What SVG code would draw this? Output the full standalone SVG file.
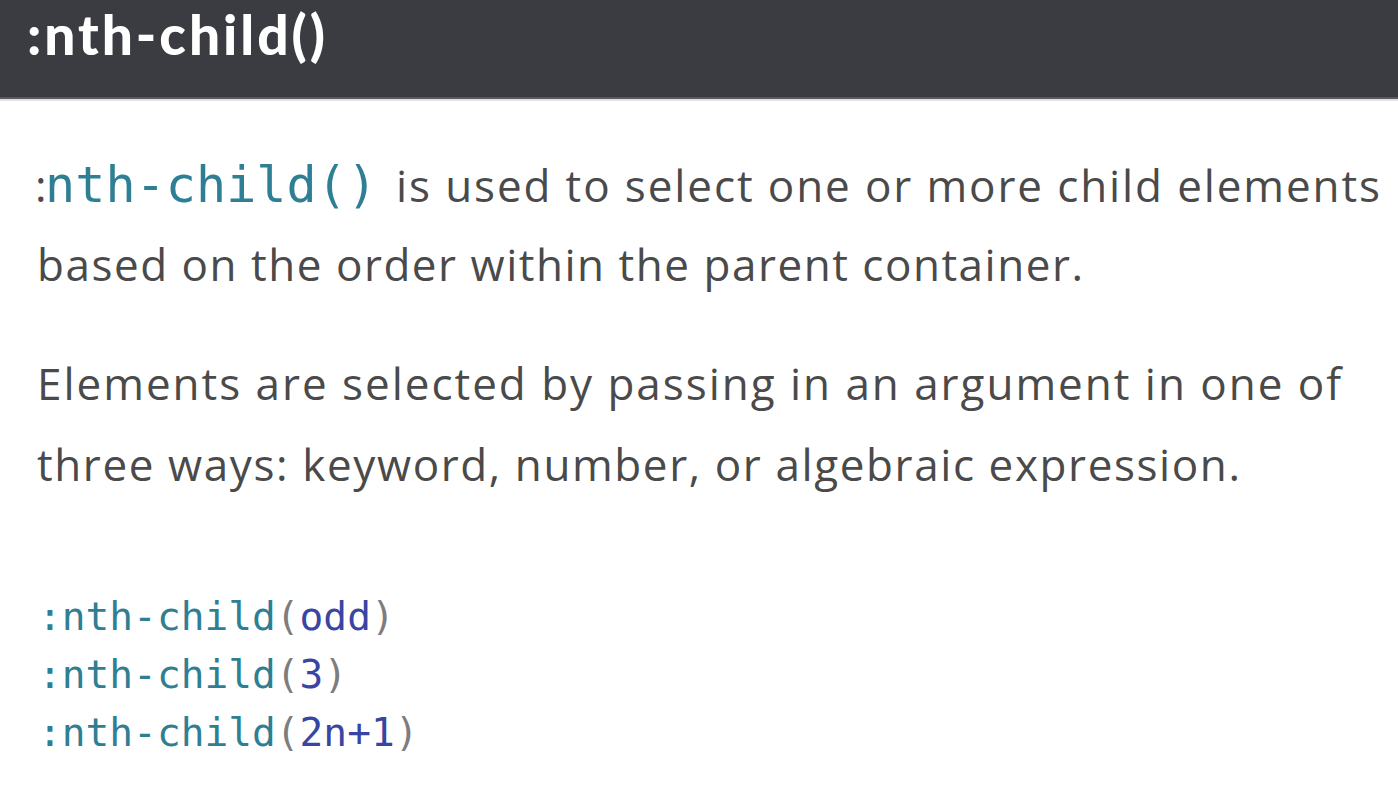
<svg xmlns="http://www.w3.org/2000/svg" width="1398" height="797" viewBox="0 0 1398 797">
  <style>
    .title { font-family: Lato, "Liberation Sans", sans-serif; font-weight: 900; font-size: 55px; fill: #ffffff; }
    .body { font-family: "Open Sans", Lato, "Liberation Sans", sans-serif; font-size: 44px; fill: #4a4a4a; }
    .mono { font-family: "DejaVu Sans Mono", "Liberation Mono", monospace; }
    .sel { fill: #2f7f94; }
    .par { fill: #7d7d7d; }
    .arg { fill: #3a44a2; }
  </style>
  <rect x="0" y="0" width="1398" height="97" fill="#3b3c41"/>
  <rect x="0" y="97" width="1398" height="2" fill="#5a5b60"/>
  <rect x="0" y="99" width="1398" height="2" fill="#e2e2e6"/>
  <text id="title" class="title" x="27" y="55" textLength="298">:nth-child()</text>

  <g id="paragraph1">
    <text class="body" x="35" y="202">:</text>
    <text class="mono sel" x="45" y="202" font-size="50" textLength="332">nth-child()</text>
    <text class="body" x="396" y="202" textLength="984">is used to select one or more child elements</text>
    <text class="body" x="37" y="281" textLength="1046">based on the order within the parent container.</text>
  </g>
  <g id="paragraph2">
    <text class="body" x="37" y="400" textLength="1304">Elements are selected by passing in an argument in one of</text>
    <text class="body" x="37" y="481" textLength="1203">three ways: keyword, number, or algebraic expression.</text>
  </g>
  <g id="code" class="mono" font-size="39.5">
    <text x="38" y="630"><tspan class="sel">:nth-child</tspan><tspan class="par">(</tspan><tspan class="arg">odd</tspan><tspan class="par">)</tspan></text>
    <text x="38" y="688"><tspan class="sel">:nth-child</tspan><tspan class="par">(</tspan><tspan class="arg">3</tspan><tspan class="par">)</tspan></text>
    <text x="38" y="746"><tspan class="sel">:nth-child</tspan><tspan class="par">(</tspan><tspan class="arg">2n+1</tspan><tspan class="par">)</tspan></text>
  </g>
</svg>
